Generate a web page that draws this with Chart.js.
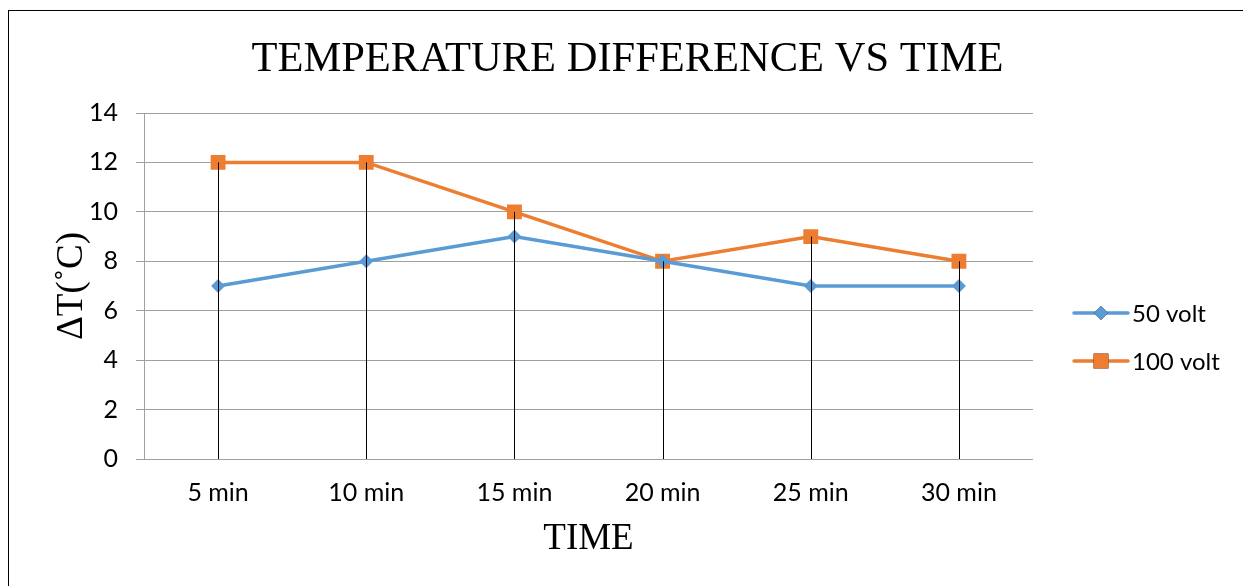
<!DOCTYPE html>
<html>
<head>
<meta charset="utf-8">
<script src="https://cdn.jsdelivr.net/npm/chart.js@4.4.1/dist/chart.umd.min.js"></script>
<style>
  html, body { margin: 0; padding: 0; background: #fff; }
  #wrap { position: relative; width: 1243px; height: 586px; }
  #frame { position: absolute; left: 8px; top: 10px; width: 1300px; height: 700px; border: 1px solid #000; box-sizing: border-box; }
  canvas { position: absolute; left: 0; top: 0; }
</style>
</head>
<body>
<div id="wrap">
  <div id="frame"></div>
  <canvas id="c" width="1243" height="586"></canvas>
</div>
<script>
const categories = ['5 min', '10 min', '15 min', '20 min', '25 min', '30 min'];
const volt50 = [7, 8, 9, 8, 7, 7];
const volt100 = [12, 12, 10, 8, 9, 8];
const seriesNames = ['50 volt', '100 volt'];
const chartTitle = 'TEMPERATURE DIFFERENCE VS TIME';
const xTitle = 'TIME';
const yTitle = 'ΔT(˚C)';
const yMin = 0, yMax = 14, yStep = 2;

const sansFont = 'Lato, Carlito, "Open Sans", sans-serif';
const serifFont = '"Liberation Serif", "Times New Roman", serif';

const dropLines = {
  id: 'dropLines',
  afterDatasetsDraw(chart) {
    const {ctx, scales: {x, y}} = chart;
    ctx.save();
    ctx.strokeStyle = '#000';
    ctx.lineWidth = 1;
    categories.forEach((c, i) => {
      const top = Math.max(...chart.data.datasets.map(d => d.data[i]));
      const px = Math.round(x.getPixelForValue(i)) + 0.5;
      ctx.beginPath();
      ctx.moveTo(px, y.getPixelForValue(top));
      ctx.lineTo(px, y.getPixelForValue(0));
      ctx.stroke();
    });
    ctx.restore();
  }
};

const sideLegend = {
  id: 'sideLegend',
  afterDraw(chart) {
    const {ctx} = chart;
    const x0 = 1074, lineLen = 54, rowY = [313, 361];
    ctx.save();
    chart.data.datasets.forEach((ds, i) => {
      const yy = rowY[i];
      ctx.strokeStyle = ds.borderColor;
      ctx.lineWidth = ds.borderWidth;
      ctx.lineCap = 'round';
      ctx.beginPath();
      ctx.moveTo(x0, yy);
      ctx.lineTo(x0 + lineLen, yy);
      ctx.stroke();
      Chart.helpers.drawPoint(ctx, {pointStyle: ds.pointStyle, radius: ds.pointRadius, borderWidth: 0, rotation: 0}, x0 + lineLen / 2, yy);
      ctx.fillStyle = ds.pointBackgroundColor;
      ctx.fill();
      ctx.fillStyle = '#000';
      ctx.font = '24px ' + sansFont;
      ctx.textBaseline = 'middle';
      ctx.textAlign = 'left';
      ctx.fillText(ds.label, x0 + lineLen + 4, yy + 1);
    });
    ctx.restore();
  }
};

new Chart(document.getElementById('c'), {
  type: 'line',
  data: {
    labels: categories,
    datasets: [
      {
        label: seriesNames[0], data: volt50,
        borderColor: '#5B9BD5', backgroundColor: '#5B9BD5',
        pointBackgroundColor: '#5B9BD5', pointBorderColor: '#5B9BD5',
        borderWidth: 3.5, pointStyle: 'rectRot', pointRadius: 7, pointBorderWidth: 0,
        tension: 0, yAxisID: 'y'
      },
      {
        label: seriesNames[1], data: volt100,
        borderColor: '#ED7D31', backgroundColor: '#ED7D31',
        pointBackgroundColor: '#ED7D31', pointBorderColor: '#ED7D31',
        borderWidth: 3.5, pointStyle: 'rect', pointRadius: 10.5, pointBorderWidth: 0,
        tension: 0, yAxisID: 'y'
      }
    ]
  },
  options: {
    responsive: false,
    animation: false,
    layout: { padding: { left: 30, right: 18, top: 15, bottom: 25 } },
    plugins: {
      legend: { display: false },
      tooltip: { enabled: false },
      title: {
        display: true, text: chartTitle, color: '#000',
        font: { family: serifFont, size: 42.5, weight: 'normal', lineHeight: 1.2 },
        padding: { top: 19, bottom: 28 }
      }
    },
    scales: {
      x: {
        offset: true,
        afterFit(scale) { scale.height = 102; },
        grid: { display: false, drawTicks: false },
        border: { display: false },
        ticks: { color: '#000', padding: 19, maxRotation: 0, font: { family: sansFont, size: 25 } },
        title: {
          display: true, text: xTitle, color: '#000',
          font: { family: serifFont, size: 37, weight: 'normal', lineHeight: 1.2 },
          padding: { top: 0, bottom: 0 }
        }
      },
      y: {
        min: yMin, max: yMax,
        afterFit(scale) { scale.width = 114; },
        grid: { color: '#A0A0A0', lineWidth: 1, tickLength: 8, drawTicks: true },
        border: { display: true, color: '#A0A0A0', width: 1 },
        ticks: { stepSize: yStep, color: '#000', padding: 18, font: { family: sansFont, size: 25 } },
        title: {
          display: true, text: yTitle, color: '#000',
          font: { family: serifFont, size: 37, weight: 'normal', lineHeight: 1.2 },
          padding: { top: 20, bottom: 0 }
        }
      },
      yR: {
        position: 'right',
        min: yMin, max: yMax,
        afterFit(scale) { scale.width = 192; },
        grid: { display: false, drawTicks: false },
        border: { display: false },
        ticks: { display: false }
      }
    }
  },
  plugins: [dropLines, sideLegend]
});
</script>
</body>
</html>
